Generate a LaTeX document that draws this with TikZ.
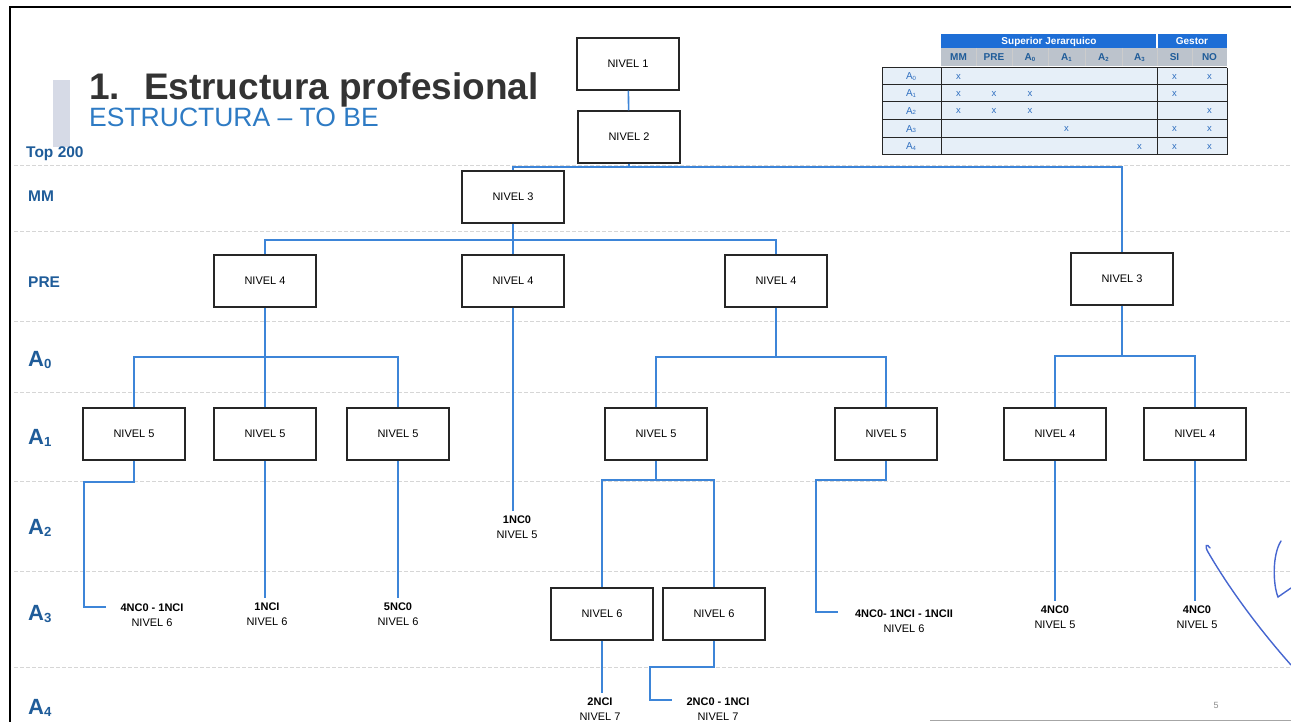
\documentclass[tikz,border=0pt]{standalone}
\usepackage{fontspec}
\setmainfont{Liberation Sans}
\definecolor{connc}{HTML}{3D85D8}
\definecolor{labc}{HTML}{1F5C99}
\definecolor{ttlc}{HTML}{2E7BC4}
\definecolor{hdrc}{HTML}{1E6ED6}
\definecolor{hdrg}{HTML}{BCC3CC}
\definecolor{cellc}{HTML}{E6EFF8}
\definecolor{xcolc}{HTML}{2F6FC0}
\definecolor{inkc}{HTML}{4666D0}
\definecolor{barc}{HTML}{D6DAE6}
\newcommand\Asb[1]{A\raisebox{-0.12ex}{\scalebox{0.6}{#1}}}
\begin{document}
\begin{tikzpicture}[x=1pt,y=-1pt,
 box/.style={draw=black!85, line width=1.3pt, minimum width=102pt, minimum height=52pt, inner sep=0pt, font=\fontsize{11}{12}\selectfont},
 wire/.style={draw=connc, line width=1.6pt},
 tag/.style={align=center, font=\fontsize{11}{15}\selectfont, inner sep=1pt},
 rowlab/.style={anchor=west, text=labc, font=\bfseries\fontsize{15.5}{16}\selectfont, inner sep=0pt},
 alab/.style={anchor=west, text=labc, font=\bfseries\fontsize{22}{22}\selectfont, inner sep=0pt},
 sepl/.style={draw=black!16, line width=0.7pt, dash pattern=on 4pt off 2pt},
 colh/.style={text=labc, font=\bfseries\fontsize{10}{10}\selectfont, inner sep=0pt},
 rowh/.style={text=xcolc, font=\fontsize{10}{10}\selectfont, inner sep=0pt},
 xm/.style={text=xcolc, font=\fontsize{9.5}{10}\selectfont, inner sep=0pt},
 ]
\useasboundingbox (0,0) rectangle (1291,722);
% separators
\foreach \yy in {165,231,321,392,481,571,667} \draw[sepl] (14,\yy) -- (1291,\yy);
% border
\draw[black, line width=2.2pt] (10,722) -- (10,7) -- (1291,7);
\draw[black!35, line width=1pt] (930,720) -- (1291,720);
% title
\fill[barc] (53,80) rectangle (70,147);
\node[anchor=base west, text=black!80, font=\bfseries\fontsize{37}{37}\selectfont, inner sep=0pt] (title) at (89,100) {1.\hspace{24pt}Estructura profesional};
\node[anchor=base west, text=ttlc, font=\fontsize{26.5}{27}\selectfont, inner sep=0pt] (sub) at (89,127) {ESTRUCTURA \textendash{} TO BE};
% row labels
\node[rowlab] (rtop) at (26,154) {Top 200};
\node[rowlab] (rmm) at (28,196) {MM};
\node[rowlab] (rpre) at (28,282) {PRE};
\node[alab] (ra0) at (28,360) {\Asb{0}};
\node[alab] (ra1) at (28,438) {\Asb{1}};
\node[alab] (ra2) at (28,528) {\Asb{2}};
\node[alab] (ra3) at (28,614) {\Asb{3}};
\node[alab] (ra4) at (28,708) {\Asb{4}};
% boxes
\node[box] (n1) at (628,64) {NIVEL 1};
\node[box] (n2) at (629,137) {NIVEL 2};
\node[box] (n3a) at (513,197) {NIVEL 3};
\node[box] (n3b) at (1122,279) {NIVEL 3};
\node[box] (n4a) at (265,281) {NIVEL 4};
\node[box] (n4b) at (513,281) {NIVEL 4};
\node[box] (n4c) at (776,281) {NIVEL 4};
\node[box] (n5a) at (134,434) {NIVEL 5};
\node[box] (n5b) at (265,434) {NIVEL 5};
\node[box] (n5c) at (398,434) {NIVEL 5};
\node[box] (n5d) at (656,434) {NIVEL 5};
\node[box] (n5e) at (886,434) {NIVEL 5};
\node[box] (n4d) at (1055,434) {NIVEL 4};
\node[box] (n4e) at (1195,434) {NIVEL 4};
\node[box] (n6a) at (602,614) {NIVEL 6};
\node[box] (n6b) at (714,614) {NIVEL 6};
% leaf labels
\node[tag] (lab1) at (152,615) {\textbf{4NC0 - 1NCI}\\NIVEL 6};
\node[tag] (lab2) at (267,614) {\textbf{1NCI}\\NIVEL 6};
\node[tag] (lab3) at (398,614) {\textbf{5NC0}\\NIVEL 6};
\node[tag] (lab4) at (517,527) {\textbf{1NC0}\\NIVEL 5};
\node[tag] (lab5) at (600,709) {\textbf{2NCI}\\NIVEL 7};
\node[tag] (lab6) at (718,709) {\textbf{2NC0 - 1NCI}\\NIVEL 7};
\node[tag] (lab7) at (904,621) {\textbf{4NC0- 1NCI - 1NCII}\\NIVEL 6};
\node[tag] (lab8) at (1055,617) {\textbf{4NC0}\\NIVEL 5};
\node[tag] (lab9) at (1197,617) {\textbf{4NC0}\\NIVEL 5};
% connectors
\coordinate (b1) at (629,167);
\coordinate (b2) at (513,240);
\coordinate (b3) at (265,357);
\coordinate (b4) at (776,357);
\coordinate (b5) at (1122,356);
\coordinate (b6) at (656,480);
\coordinate (k1) at (84,482);
\coordinate (e1) at (106,607);
\coordinate (k2) at (816,480);
\coordinate (e2) at (838,612);
\coordinate (k3) at (650,667);
\coordinate (e3) at (672,700);
\draw[wire] (n1) -- (n2);
\draw[wire] (n2.south) -- (b1);
\draw[wire] (n3a.north) |- (b1) -| (n3b.north);
\draw[wire] (n3a.south) -- (b2);
\draw[wire] (n4a.north) |- (b2) -| (n4c.north);
\draw[wire] (b2) -- (n4b.north);
\draw[wire] (n4a.south) -- (n5b.north);
\draw[wire] (n5a.north) |- (b3) -| (n5c.north);
\draw[wire, shorten >=3pt] (n4b.south) -- (n4b.south |- lab4.north);
\draw[wire] (n4c.south) -- (b4);
\draw[wire] (n5d.north) |- (b4) -| (n5e.north);
\draw[wire] (n3b.south) -- (b5);
\draw[wire] (n4d.north) |- (b5) -| (n4e.north);
\draw[wire] (n5a.south) |- (k1) |- (e1);
\draw[wire, shorten >=3pt] (n5b.south) -- (n5b.south |- lab2.north);
\draw[wire, shorten >=3pt] (n5c.south) -- (n5c.south |- lab3.north);
\draw[wire] (n5d.south) -- (b6);
\draw[wire] (n6a.north) |- (b6) -| (n6b.north);
\draw[wire] (n5e.south) |- (k2) |- (e2);
\draw[wire, shorten >=3pt] (n4d.south) -- (n4d.south |- lab8.north);
\draw[wire, shorten >=3pt] (n4e.south) -- (n4e.south |- lab9.north);
\draw[wire, shorten >=3pt] (n6a.south) -- (n6a.south |- lab5.north);
\draw[wire] (n6b.south) |- (k3) |- (e3);
% table
\fill[hdrc] (941,34) rectangle (1227,48);
\fill[hdrg] (941,48) rectangle (1227,66);
\fill[cellc] (882,68) rectangle (1227,155);
\draw[white, line width=1.2pt] (1157,34) -- (1157,48);
\foreach \cx in {976,1012,1048,1085,1122,1157,1192} \draw[white!80!black, line width=0.9pt] (\cx,48) -- (\cx,66);
\foreach \ry in {68,85,102,120,138,155} \draw[black!85, line width=1pt] (882,\ry) -- (1227,\ry);
\foreach \cx in {882,941,1157,1227} \draw[black!85, line width=1pt] (\cx,68) -- (\cx,155);
\node[text=white, font=\bfseries\fontsize{10}{10}\selectfont, inner sep=0pt] (th1) at (1049,41.5) {Superior Jerarquico};
\node[text=white, font=\bfseries\fontsize{10}{10}\selectfont, inner sep=0pt] (th2) at (1192,41.5) {Gestor};
\node[colh] (c1) at (958.5,57.5) {MM};
\node[colh] (c2) at (994,57.5) {PRE};
\node[colh] (c3) at (1030,57.5) {\Asb{0}};
\node[colh] (c4) at (1066.5,57.5) {\Asb{1}};
\node[colh] (c5) at (1103.5,57.5) {\Asb{2}};
\node[colh] (c6) at (1139.5,57.5) {\Asb{3}};
\node[colh] (c7) at (1174.5,57.5) {SI};
\node[colh] (c8) at (1209.5,57.5) {NO};
\node[rowh] (r0) at (911,76.5) {\Asb{0}};
\node[rowh] (r1) at (911,93.5) {\Asb{1}};
\node[rowh] (r2) at (911,111) {\Asb{2}};
\node[rowh] (r3) at (911,129) {\Asb{3}};
\node[rowh] (r4) at (911,146.5) {\Asb{4}};
\foreach \mx/\my [count=\i] in {958.5/76.5,1174.5/76.5,1209.5/76.5,
  958.5/93.5,994/93.5,1030/93.5,1174.5/93.5,
  958.5/111,994/111,1030/111,1209.5/111,
  1066.5/129,1174.5/129,1209.5/129,
  1139.5/146.5,1174.5/146.5,1209.5/146.5}
  \node[xm] (x\i) at (\mx,\my) {x};
% page number
\node[text=black!45, font=\fontsize{9}{9}\selectfont, inner sep=0pt] (pg) at (1216,705) {5};
% handwriting
\draw[inkc, line width=1.4pt, line cap=round] (1210,548) .. controls (1207,543) and (1204,545) .. (1208,552) .. controls (1230,590) and (1260,630) .. (1291,665);
\draw[inkc, line width=1.4pt, line cap=round] (1281,541) .. controls (1272,555) and (1273,585) .. (1278,597) -- (1291,588);
\end{tikzpicture}
\end{document}
